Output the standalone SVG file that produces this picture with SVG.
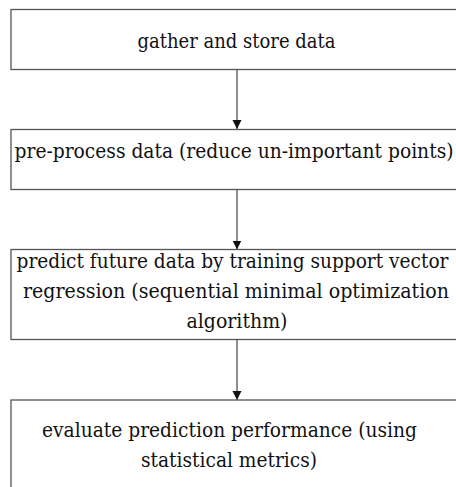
<svg xmlns="http://www.w3.org/2000/svg" width="456" height="487" viewBox="0 0 456 487">
  <style>
    .box { fill: #ffffff; stroke: #555555; stroke-width: 1.3; }
    .lbl { font-family: 'DejaVu Serif Condensed', 'DejaVu Serif', 'Liberation Serif', serif; font-stretch: condensed; font-size: 20px; fill: #111111; text-anchor: middle; }
    .edge { stroke: #444444; stroke-width: 1.2; fill: none; }
  </style>
  <defs>
    <marker id="arrow" markerWidth="10" markerHeight="10" refX="9" refY="5" orient="auto" markerUnits="userSpaceOnUse">
      <path d="M0,0.5 L9,5 L0,9.5 Z" fill="#111111"/>
    </marker>
  </defs>
  <rect width="456" height="487" fill="#ffffff"/>

  <!-- vertical flow arrows between the steps -->
  <g id="connectors">
    <line class="edge" x1="237" y1="69.5" x2="237" y2="129" marker-end="url(#arrow)"/>
    <line class="edge" x1="237" y1="189.5" x2="237" y2="249.5" marker-end="url(#arrow)"/>
    <line class="edge" x1="237" y1="339.5" x2="237" y2="400" marker-end="url(#arrow)"/>
  </g>

  <g id="gather">
    <rect class="box" x="11" y="9.5" width="460" height="60"/>
    <text class="lbl" x="236.5" y="48" textLength="198" lengthAdjust="spacingAndGlyphs">gather and store data</text>
  </g>

  <g id="preprocess">
    <rect class="box" x="11" y="129.5" width="460" height="60"/>
    <text class="lbl" x="234" y="157.5" textLength="439" lengthAdjust="spacingAndGlyphs">pre-process data (reduce un-important points)</text>
  </g>

  <g id="predict">
    <rect class="box" x="11" y="249.5" width="460" height="90"/>
    <text class="lbl" x="232.5" y="268" textLength="432" lengthAdjust="spacingAndGlyphs">predict future data by training support vector</text>
    <text class="lbl" x="236" y="298" textLength="426" lengthAdjust="spacingAndGlyphs">regression (sequential minimal optimization</text>
    <text class="lbl" x="237" y="328" textLength="101" lengthAdjust="spacingAndGlyphs">algorithm)</text>
  </g>

  <g id="evaluate">
    <rect class="box" x="11" y="400" width="460" height="100"/>
    <text class="lbl" x="229.5" y="437" textLength="375" lengthAdjust="spacingAndGlyphs">evaluate prediction performance (using</text>
    <text class="lbl" x="229" y="467" textLength="176" lengthAdjust="spacingAndGlyphs">statistical metrics)</text>
  </g>
</svg>
